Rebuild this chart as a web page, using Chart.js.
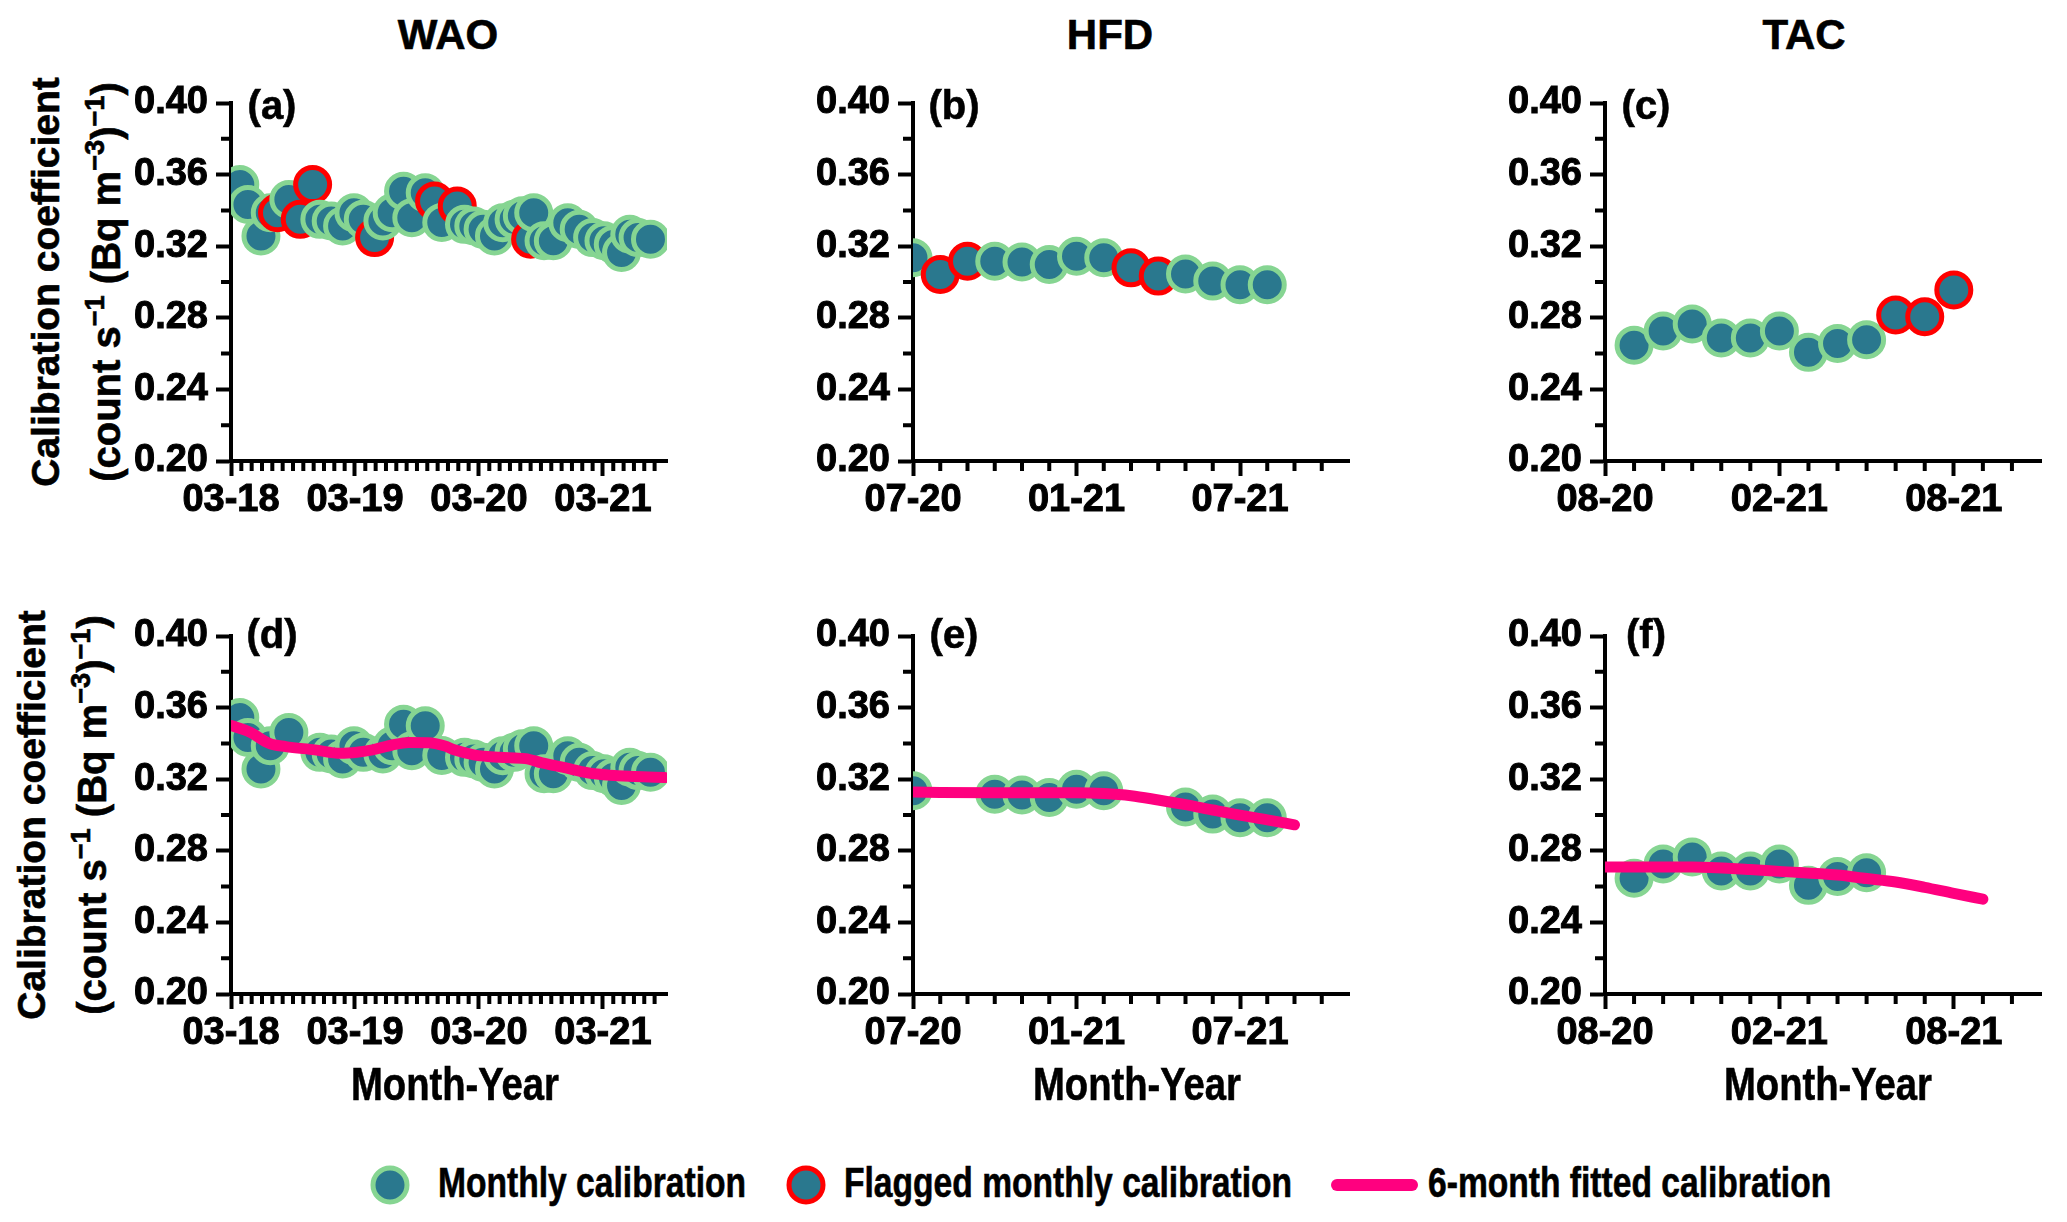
<!DOCTYPE html>
<html lang="en">

<head>
    <meta charset="UTF-8">
    <title>Calibration coefficient</title>
    <style>
        body { margin: 0; background: #fff; }
        #fig { position: relative; width: 2067px; height: 1222px; overflow: hidden; font-family: 'Liberation Sans', Arial, sans-serif; color: #000; -webkit-text-stroke: 0.6px #000; }
        #fig canvas { position: absolute; }
        .txt { position: absolute; transform: translate(-50%, -50%); white-space: nowrap; font-weight: bold; line-height: 1; }
        .txt.narrow { transform: translate(-50%, -50%) scaleX(0.83); }
        .ytitle { position: absolute; transform: translate(-50%, -50%) rotate(-90deg); white-space: nowrap; font-weight: bold; font-size: 39px; line-height: 1; }
        .ytitle sup { font-size: 0.68em; vertical-align: 0.58em; line-height: 0; }
        .lab { position: absolute; font-weight: bold; font-size: 40px; line-height: 1; transform: translate(-50%, -50%); }
        .legtxt { position: absolute; transform-origin: left center; transform: translateY(-50%) scaleX(0.80); white-space: nowrap; font-weight: bold; font-size: 42px; line-height: 1; }
        .legdot { position: absolute; width: 29px; height: 29px; border-radius: 50%; border: 5px solid; background: #2a788e; transform: translate(-50%, -50%); }
        .legline { position: absolute; height: 12px; border-radius: 6px; background: #ff007f; transform: translateY(-50%); }
    </style>
</head>

<body>
    <div id="fig">
        <div class="txt" style="left:448px;top:35px;font-size:42px">WAO</div>
        <div class="txt" style="left:1110px;top:35px;font-size:42px">HFD</div>
        <div class="txt" style="left:1804px;top:35px;font-size:42px">TAC</div>

        <div class="ytitle" style="left:45px;top:282px">Calibration coefficient</div>
        <div class="ytitle" style="left:106px;top:282px;font-size:40px">(count s<sup>&minus;1</sup> (Bq m<sup>&minus;3</sup>)<sup>&minus;1</sup>)</div>
        <div class="ytitle" style="left:31px;top:815px">Calibration coefficient</div>
        <div class="ytitle" style="left:92px;top:815px;font-size:40px">(count s<sup>&minus;1</sup> (Bq m<sup>&minus;3</sup>)<sup>&minus;1</sup>)</div>

        <canvas id="gA" width="558" height="450" style="left:131px;top:81px"></canvas>
        <canvas id="gB" width="558" height="450" style="left:813px;top:81px"></canvas>
        <canvas id="gC" width="558" height="450" style="left:1505px;top:81px"></canvas>
        <canvas id="gD" width="558" height="450" style="left:131px;top:614px"></canvas>
        <canvas id="gE" width="558" height="450" style="left:813px;top:614px"></canvas>
        <canvas id="gF" width="558" height="450" style="left:1505px;top:614px"></canvas>

        <div class="lab" style="left:272px;top:105px">(a)</div>
        <div class="lab" style="left:954px;top:105px">(b)</div>
        <div class="lab" style="left:1646px;top:105px">(c)</div>
        <div class="lab" style="left:272px;top:634px">(d)</div>
        <div class="lab" style="left:954px;top:634px">(e)</div>
        <div class="lab" style="left:1646px;top:634px">(f)</div>

        <div class="txt narrow" style="left:455px;top:1084px;font-size:46px">Month-Year</div>
        <div class="txt narrow" style="left:1137px;top:1084px;font-size:46px">Month-Year</div>
        <div class="txt narrow" style="left:1828px;top:1084px;font-size:46px">Month-Year</div>

        <div class="legdot" style="left:390px;top:1185px;border-color:#86d592"></div>
        <div class="legtxt" style="left:438px;top:1183px">Monthly calibration</div>
        <div class="legdot" style="left:806px;top:1185px;border-color:#ff0000"></div>
        <div class="legtxt" style="left:844px;top:1183px">Flagged monthly calibration</div>
        <div class="legline" style="left:1331px;top:1185px;width:87px"></div>
        <div class="legtxt" style="left:1428px;top:1183px">6-month fitted calibration</div>
    </div>

    <script src="https://cdn.jsdelivr.net/npm/chart.js"></script>
    <script>
        // meses contados desde el primer mes de cada eje
        // WAO: desde 03-18
        const waoMes = [0.85, 1.64, 2.9, 3.8, 4.5, 5.6, 6.7, 7.9, 8.6, 9.7, 10.8, 11.9, 12.8, 13.9, 14.7, 15.6, 16.7, 17.5, 18.8, 19.7,
            20.4, 21.9, 22.6, 23.5, 24.4, 25.5, 26.3, 27.4, 28.2, 29.0, 29.3, 30.3, 31.2, 32.6, 33.7, 35.0, 36.1, 37.0, 37.8, 38.6, 39.4, 40.6]
        const waoCal = [0.3544, 0.3433, 0.3257, 0.3387, 0.3387, 0.3461, 0.3350, 0.3544, 0.3350, 0.3341, 0.3313, 0.3387, 0.3350, 0.3248, 0.3341, 0.3387, 0.3507, 0.3359, 0.3498, 0.3452,
            0.3333, 0.3424, 0.3322, 0.3313, 0.3294, 0.3257, 0.3331, 0.3350, 0.3370, 0.3239, 0.3387, 0.3230, 0.3230, 0.3331, 0.3294, 0.3248, 0.3230, 0.3210, 0.3165, 0.3267, 0.3248, 0.3239]
        const waoFlag = [0, 0, 0, 0, 1, 0, 1, 1, 0, 0, 0, 0, 0, 1, 0, 0, 0, 0, 0, 1,
            0, 1, 0, 0, 0, 0, 0, 0, 0, 1, 0, 0, 0, 0, 0, 0, 0, 0, 0, 0, 0, 0]
        const waoAjusteMes = [0, 1.8, 3.7, 5.3, 8.1, 10.6, 12.2, 13.7, 15.6, 17.2, 19.1, 20.7, 21.6, 23.5, 26, 28.5, 30.1, 32.3, 34.5, 36.7, 39.2, 42]
        const waoAjuste = [0.350, 0.3464, 0.340, 0.3382, 0.3364, 0.3345, 0.3351, 0.3364, 0.3391, 0.3405, 0.3404, 0.3385, 0.3364, 0.3336, 0.3322, 0.3315, 0.3291, 0.3264, 0.3236, 0.3222, 0.3215, 0.3209]
        const waoEtiquetas = ["03-18", "03-19", "03-20", "03-21"]

        // HFD: desde 07-20
        const hfdMes = [0, 1, 2, 3, 4, 5, 6, 7, 8, 9, 10, 11, 12, 13]
        const hfdCal = [0.3135, 0.3042, 0.3116, 0.3116, 0.3112, 0.3098, 0.3144, 0.3135, 0.3079, 0.3033, 0.3045, 0.3005, 0.2985, 0.2985]
        const hfdFlag = [0, 1, 1, 0, 0, 0, 0, 0, 1, 1, 0, 0, 0, 0]
        const hfdAjusteMes = [0, 3, 6, 7, 8, 9, 10, 11, 12, 13, 14]
        const hfdAjuste = [0.3128, 0.3124, 0.3124, 0.3120, 0.3108, 0.3084, 0.3058, 0.3028, 0.2999, 0.2973, 0.2945]
        const hfdEtiquetas = ["07-20", "01-21", "07-21"]

        // TAC: desde 08-20
        const tacMes = [1, 2, 3, 4, 5, 6, 7, 8, 9, 10, 11, 12]
        const tacCal = [0.2647, 0.2726, 0.2766, 0.2687, 0.2687, 0.2726, 0.2607, 0.2657, 0.2677, 0.2816, 0.2806, 0.2955]
        const tacFlag = [0, 0, 0, 0, 0, 0, 0, 0, 0, 1, 1, 1]
        const tacAjusteMes = [0, 3, 5, 6, 8, 9, 10, 11, 12, 13]
        const tacAjuste = [0.2709, 0.2709, 0.2695, 0.2685, 0.2665, 0.2645, 0.2626, 0.2596, 0.2562, 0.2530]
        const tacEtiquetas = ["08-20", "02-21", "08-21"]

        const yValores = [0.20, 0.24, 0.28, 0.32, 0.36, 0.40]
        const yEtiquetas = ["0.20", "0.24", "0.28", "0.32", "0.36", "0.40"]
        const yMenores = [0.22, 0.26, 0.30, 0.34, 0.38]

        const colorRelleno = "#2a788e"
        const colorVerde = "#86d592"
        const colorRojo = "#ff0000"
        const colorAjuste = "#ff007f"
        const fuenteTicks = { family: "'Liberation Sans', Arial, sans-serif", weight: "bold", size: 38 }

        // marcas menores (cada mes / cada 0.02)
        function marcasMenores(xMenores) {
            return {
                id: "marcasMenores",
                afterDraw(chart) {
                    let ctx = chart.ctx
                    let area = chart.chartArea
                    ctx.save()
                    ctx.strokeStyle = "#000"
                    ctx.lineWidth = 4
                    ctx.beginPath()
                    xMenores.forEach(v => {
                        let px = chart.scales.x.getPixelForValue(v)
                        ctx.moveTo(px, area.bottom)
                        ctx.lineTo(px, area.bottom + 10)
                    })
                    yMenores.forEach(v => {
                        let py = chart.scales.y.getPixelForValue(v)
                        ctx.moveTo(area.left - 10, py)
                        ctx.lineTo(area.left, py)
                    })
                    ctx.stroke()
                    ctx.restore()
                }
            }
        }

        function grafico(idCanvas, meses, valores, flags, ajusteMes, ajusteVal, xMax, mayores, etiquetas, nMeses, soloBuenos) {
            let puntos = []
            let bordes = []
            meses.forEach((mes, i) => {
                if (soloBuenos && flags[i] == 1) return
                puntos.push({ x: mes, y: valores[i] })
                bordes.push(flags[i] == 1 ? colorRojo : colorVerde)
            })

            let datasets = [{
                type: "scatter",
                data: puntos,
                backgroundColor: colorRelleno,
                borderColor: bordes,
                borderWidth: 5,
                pointRadius: 17,
                pointHoverRadius: 17,
                order: 2,
                clip: 0
            }]
            if (ajusteMes) {
                datasets.push({
                    type: "line",
                    data: ajusteMes.map((m, i) => ({ x: m, y: ajusteVal[i] })),
                    borderColor: colorAjuste,
                    borderWidth: 11,
                    borderCapStyle: "round",
                    pointRadius: 0,
                    cubicInterpolationMode: "monotone",
                    fill: false,
                    order: 1,
                    clip: 0
                })
            }

            let xMenores = []
            for (let m = 0; m < nMeses; m++) {
                if (!mayores.includes(m)) xMenores.push(m)
            }

            new Chart(document.getElementById(idCanvas), {
                type: "scatter",
                data: { datasets: datasets },
                options: {
                    responsive: false,
                    animation: false,
                    events: [],
                    layout: { padding: { top: 20, right: 10, left: 0, bottom: 0 } },
                    plugins: { legend: { display: false }, tooltip: { enabled: false } },
                    scales: {
                        x: {
                            type: "linear",
                            min: 0,
                            max: xMax,
                            afterBuildTicks: s => { s.ticks = mayores.map(v => ({ value: v })) },
                            afterFit: s => { s.height = 70; s.paddingLeft = 0; s.paddingRight = 0 },
                            grid: { drawOnChartArea: false, tickLength: 15, tickWidth: 4, tickColor: "#000" },
                            border: { color: "#000", width: 4 },
                            ticks: {
                                padding: 2, color: "#000", font: fuenteTicks, maxRotation: 0, autoSkip: false,
                                textStrokeColor: "#000", textStrokeWidth: 1,
                                callback: (v, i) => etiquetas[i]
                            }
                        },
                        y: {
                            min: 0.2,
                            max: 0.4,
                            afterBuildTicks: s => { s.ticks = yValores.map(v => ({ value: v })) },
                            afterFit: s => { s.width = 100; s.paddingTop = 0; s.paddingBottom = 0 },
                            grid: { drawOnChartArea: false, tickLength: 15, tickWidth: 4, tickColor: "#000" },
                            border: { color: "#000", width: 4 },
                            ticks: {
                                padding: 8, color: "#000", font: fuenteTicks,
                                textStrokeColor: "#000", textStrokeWidth: 1,
                                callback: (v, i) => yEtiquetas[i]
                            }
                        }
                    }
                },
                plugins: [marcasMenores(xMenores)]
            })
        }

        grafico("gA", waoMes, waoCal, waoFlag, null, null, 42.2, [0, 12, 24, 36], waoEtiquetas, 42, false)
        grafico("gB", hfdMes, hfdCal, hfdFlag, null, null, 16, [0, 6, 12], hfdEtiquetas, 16, false)
        grafico("gC", tacMes, tacCal, tacFlag, null, null, 15, [0, 6, 12], tacEtiquetas, 15, false)
        grafico("gD", waoMes, waoCal, waoFlag, waoAjusteMes, waoAjuste, 42.2, [0, 12, 24, 36], waoEtiquetas, 42, true)
        grafico("gE", hfdMes, hfdCal, hfdFlag, hfdAjusteMes, hfdAjuste, 16, [0, 6, 12], hfdEtiquetas, 16, true)
        grafico("gF", tacMes, tacCal, tacFlag, tacAjusteMes, tacAjuste, 15, [0, 6, 12], tacEtiquetas, 15, true)
    </script>
</body>

</html>
